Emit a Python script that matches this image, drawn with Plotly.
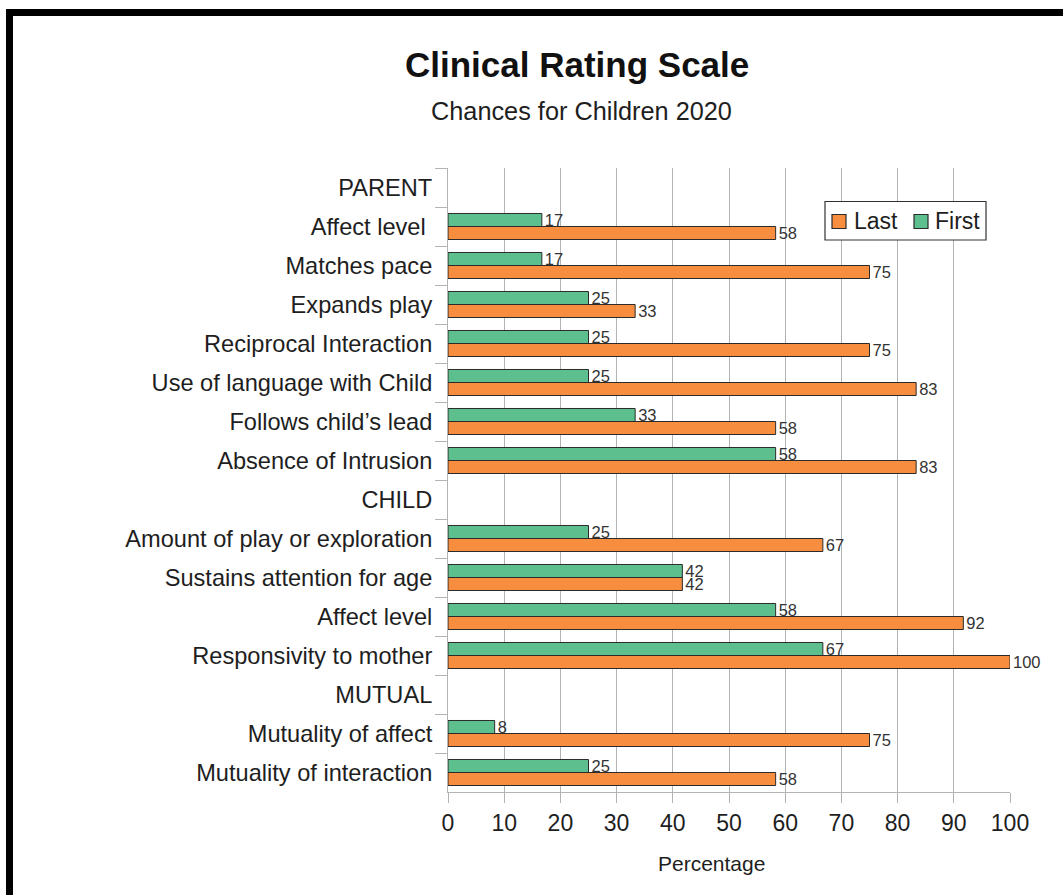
import plotly.graph_objects as go

categories = ["PARENT", "Affect level ", "Matches pace", "Expands play", "Reciprocal Interaction",
              "Use of language with Child", "Follows child\u2019s lead", "Absence of Intrusion",
              "CHILD", "Amount of play or exploration", "Sustains attention for age", "Affect level",
              "Responsivity to mother", "MUTUAL", "Mutuality of affect", "Mutuality of interaction"]
first_vals = [None, 16.7, 16.7, 25, 25, 25, 33.3, 58.3, None, 25, 41.7, 58.3, 66.7, None, 8.3, 25]
last_vals = [None, 58.3, 75, 33.3, 75, 83.3, 58.3, 83.3, None, 66.7, 41.7, 91.7, 100, None, 75, 58.3]
x_ticks = list(range(0, 101, 10))
series_names = ["Last", "First"]

W, H = 1063, 895
L, R, T, B = 448, 1010, 168, 792
PW, PH = R - L, B - T

def px(x):
    return (x - L) / PW

def py(y):
    return (B - y) / PH

FONT = "Liberation Sans, Arial, sans-serif"
GREEN = "#5dbf8d"
ORANGE = "#f68d3f"
GRID = "#b3b3b3"
EDGE = "#2b2b2b"
TXT = "#1e1e1e"

fig = go.Figure()
fig.add_trace(go.Bar(name="First", y=categories, x=first_vals, orientation="h",
                     marker=dict(color=GREEN, line=dict(color=EDGE, width=1)),
                     texttemplate="%{x:.0f}", textposition="outside", cliponaxis=False,
                     constraintext="none", textfont=dict(size=16.5, color="#333333", family=FONT)))
fig.add_trace(go.Bar(name="Last", y=categories, x=last_vals, orientation="h",
                     marker=dict(color=ORANGE, line=dict(color=EDGE, width=1)),
                     texttemplate="%{x:.0f}", textposition="outside", cliponaxis=False,
                     constraintext="none", textfont=dict(size=16.5, color="#333333", family=FONT)))

# custom legend (box, swatches, labels)
legend_colors = {"Last": ORANGE, "First": GREEN}
legend_sw_x = {"Last": 832, "First": 914}
legend_tx_x = {"Last": 852, "First": 933}
shapes = [
    dict(type="rect", xref="paper", yref="paper", x0=px(6), x1=px(1063), y0=py(9), y1=py(16),
         fillcolor="black", line=dict(width=0), layer="above"),
    dict(type="rect", xref="paper", yref="paper", x0=px(6), x1=px(13), y0=py(9), y1=py(895),
         fillcolor="black", line=dict(width=0), layer="above"),
    dict(type="rect", xref="paper", yref="paper", x0=px(825), x1=px(986), y0=py(201.5), y1=py(240),
         fillcolor="white", line=dict(color="#333333", width=1.2), layer="above"),
]
annotations = [
    dict(text="<b>Clinical Rating Scale</b>", x=px(577), y=py(65), xref="paper", yref="paper",
         xanchor="center", yanchor="middle", showarrow=False,
         font=dict(size=35, color="#111111", family=FONT)),
    dict(text="Chances for Children 2020", x=px(581), y=py(111), xref="paper", yref="paper",
         xanchor="center", yanchor="middle", showarrow=False,
         font=dict(size=25.3, color=TXT, family=FONT)),
    dict(text="Percentage", x=px(711), y=py(863), xref="paper", yref="paper",
         xanchor="center", yanchor="middle", showarrow=False,
         font=dict(size=21, color=TXT, family=FONT)),
]
for name in series_names:
    sx = legend_sw_x[name]
    shapes.append(dict(type="rect", xref="paper", yref="paper", x0=px(sx), x1=px(sx + 14),
                       y0=py(214.5), y1=py(228.5), fillcolor=legend_colors[name],
                       line=dict(color=EDGE, width=1.2), layer="above"))
    annotations.append(dict(text=name, x=px(legend_tx_x[name]), y=py(221), xref="paper", yref="paper",
                            xanchor="left", yanchor="middle", showarrow=False,
                            font=dict(size=23, color=TXT, family=FONT)))

fig.update_layout(
    width=W, height=H,
    margin=dict(l=L, r=W - R, t=T, b=H - B, pad=0),
    paper_bgcolor="white", plot_bgcolor="white",
    barmode="group", bargap=0.333, bargroupgap=0,
    font=dict(family=FONT, color=TXT),
    showlegend=False,
    xaxis=dict(range=[0, 100], tickvals=x_ticks, showgrid=True, gridcolor=GRID, gridwidth=1,
               zeroline=False, showline=True, linecolor=GRID, linewidth=1,
               ticks="outside", ticklen=10, tickcolor=GRID,
               tickfont=dict(size=23, color=TXT, family=FONT)),
    yaxis=dict(categoryorder="array", categoryarray=categories, autorange="reversed",
               tickson="boundaries", ticks="outside", ticklen=12, tickcolor=GRID,
               ticklabelstandoff=10,
               showgrid=False, zeroline=False, showline=True, linecolor=GRID, linewidth=1,
               tickfont=dict(size=23.6, color=TXT, family=FONT)),
    annotations=annotations,
    shapes=shapes,
)

fig.write_html("out.html")
